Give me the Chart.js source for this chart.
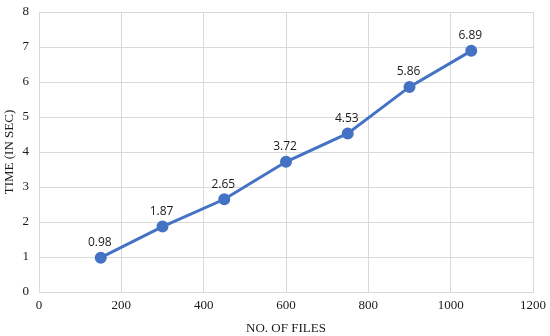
<!DOCTYPE html>
<html>
<head>
<meta charset="utf-8">
<script src="https://cdn.jsdelivr.net/npm/chart.js@4"></script>
<style>
  html, body { margin: 0; padding: 0; background: #fff; }
  #wrap { width: 550px; height: 336px; }
</style>
</head>
<body>
<div id="wrap"><canvas id="chart" width="550" height="336"></canvas></div>
<script>
// values
const fileCounts = [150, 300, 450, 600, 750, 900, 1050];
const timesSec = [0.98, 1.87, 2.65, 3.72, 4.53, 5.86, 6.89];
const xTitle = 'NO. OF FILES';
const yTitle = 'TIME (IN SEC)';

const lineBlue = '#4472c4';
const gridGray = '#d9d9d9';
const textDark = '#1a1a1a';
const serif = "'Liberation Serif', 'Times New Roman', serif";

// labels above each point
const pointLabels = {
    id: 'pointLabels',
    afterDatasetsDraw(chart) {
        const ctx = chart.ctx;
        const meta = chart.getDatasetMeta(0);
        ctx.save();
        ctx.font = "12px 'Open Sans', sans-serif";
        ctx.fillStyle = textDark;
        ctx.textAlign = 'center';
        ctx.textBaseline = 'bottom';
        meta.data.forEach((pt, i) => {
            ctx.fillText(timesSec[i].toFixed(2), pt.x - 1, pt.y - 9);
        });
        ctx.restore();
    }
};

new Chart(document.getElementById('chart'), {
    type: 'line',
    data: {
        datasets: [{
            data: fileCounts.map((x, i) => ({ x: x, y: timesSec[i] })),
            borderColor: lineBlue,
            backgroundColor: lineBlue,
            borderWidth: 3,
            pointRadius: 4.5,
            pointHoverRadius: 4.5,
            tension: 0
        }]
    },
    options: {
        responsive: false,
        animation: false,
        layout: { padding: { top: 12, right: 17, left: 0, bottom: 0 } },
        plugins: {
            legend: { display: false },
            tooltip: { enabled: false }
        },
        scales: {
            x: {
                type: 'linear',
                min: 0,
                max: 1200,
                ticks: {
                    stepSize: 200,
                    color: textDark,
                    font: { family: serif, size: 13 },
                    padding: 6,
                    callback: v => String(v)
                },
                grid: { color: gridGray, drawTicks: false },
                border: { color: gridGray },
                title: { display: true, text: xTitle, color: textDark, font: { family: serif, size: 13 }, padding: { top: 2, bottom: 0 } },
                afterFit(scale) {
                    scale.height = 44;
                    scale.paddingLeft = 0;
                    scale.paddingRight = 0;
                }
            },
            y: {
                min: 0,
                max: 8,
                ticks: { stepSize: 1, color: textDark, font: { family: serif, size: 13 }, padding: 10 },
                grid: { color: gridGray, drawTicks: false },
                border: { color: gridGray },
                title: { display: true, text: yTitle, color: textDark, font: { family: serif, size: 13 }, padding: { top: 2, bottom: 2 } },
                afterFit(scale) {
                    scale.width = 39;
                    scale.paddingTop = 0;
                    scale.paddingBottom = 0;
                }
            }
        }
    },
    plugins: [pointLabels]
});
</script>
</body>
</html>
